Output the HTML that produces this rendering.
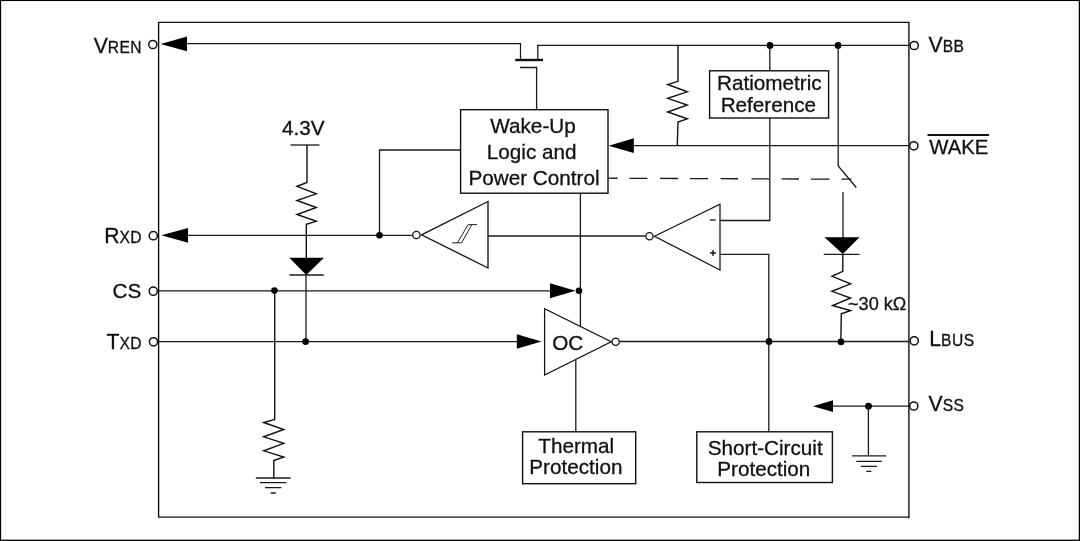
<!DOCTYPE html>
<html><head><meta charset="utf-8"><title>Block Diagram</title>
<style>
html,body{margin:0;padding:0;background:#fff;}
body{width:1080px;height:541px;overflow:hidden;}
svg{display:block;will-change:transform;}
text{font-family:"Liberation Sans",Arial,sans-serif;fill:#111;stroke:#111;stroke-width:0.3px;}
.l{stroke:#1a1a1a;stroke-width:1.3;fill:none;}
.tri{stroke:#111;stroke-width:1.25;fill:none;}
.r{stroke:#111;stroke-width:1.4;fill:none;stroke-linejoin:miter;}
.b{stroke:#111;stroke-width:1.4;fill:none;}
.k{fill:#000;stroke:none;}
.c{fill:#fff;stroke:#111;stroke-width:1.5;}
.t{font-size:20.7px;}
.s{font-size:15.6px;letter-spacing:0.45px;}
.p{font-size:21.2px;}
</style></head><body>
<svg width="1080" height="541" viewBox="0 0 1080 541">
<rect x="0" y="0" width="1080" height="541" fill="#fff"/>
<!-- outer border -->
<rect x="0.5" y="0.4" width="1078.9" height="539.9" fill="none" stroke="#000" stroke-width="1.3"/>
<!-- chip outline -->
<path class="b" d="M908.9 518.2V22.4H158.6V517.1H909.5" stroke-linejoin="miter"/>

<!-- VREN line + arrow -->
<path class="l" d="M186 43.7H520.5V60" style="stroke-width:1.2"/>
<polygon class="k" points="160.6,43.9 187,36.5 187,51.3"/>
<!-- MOSFET -->
<path d="M515.2 60H543" stroke="#111" stroke-width="2.4" fill="none"/>
<path class="l" d="M520 67.5H536.6V109.8"/>
<path class="l" d="M537.8 60V45.4H909"/>
<!-- pull-up resistor to WAKE -->
<path class="r" d="M678 45.4V81.3L667.7 84.5L687.3 91.8L667.7 98.3L687.3 105L667.7 112L687.3 118.8L678 122L677.3 145.7"/>
<!-- Ratiometric -->
<path class="l" d="M769.8 45.4V70.8M769.8 118V220.5H720"/>
<rect class="b" x="709.6" y="70.8" width="119" height="47.2" fill="#fff"/>
<text class="t" x="769.3" y="89.8" text-anchor="middle">Ratiometric</text>
<text class="t" x="768.4" y="111.9" text-anchor="middle">Reference</text>
<circle class="k" cx="770" cy="45.4" r="3.4"/>
<circle class="k" cx="838" cy="45.4" r="3.4"/>
<!-- switch branch -->
<path class="l" d="M838.2 45.4V166L856.3 187.5"/>
<path class="l" d="M843 192V238"/>
<polygon class="k" points="824.5,237.2 859.6,237.2 842.8,254"/>
<path class="l" d="M823.7 254.3H859.6"/>
<path class="r" d="M842.8 254V271.3L832 276.3L850.6 283.8L832 291.3L850.6 298L832.5 305.5L850.6 310.5L841.3 313.8L840.8 341.5"/>
<text x="848" y="310.3" style="font-size:18.1px">~30 kΩ</text>
<!-- WAKE line -->
<path class="l" d="M632 145.7H909"/>
<polygon class="k" points="608.6,145.7 633.8,138.3 633.8,153.1"/>
<!-- dashed -->
<path class="l" d="M608.0 178.20L617.5 178.24M629.5 178.29L647.5 178.36M660.0 178.41L678.0 178.49M690.0 178.54L708.0 178.61M720.5 178.66L738.0 178.73M751.5 178.79L769.0 178.86M781.5 178.91L799.0 178.99M811.0 179.04L829.5 179.11M841.5 179.16L851.5 179.20"/>
<!-- Wake-up box -->
<path class="l" d="M460.5 150H379.5V235.3"/>
<rect class="b" x="460.6" y="109.7" width="147.4" height="83.5" fill="#fff"/>
<text class="t" x="533" y="132.5" text-anchor="middle">Wake-Up</text>
<text class="t" x="531.7" y="158.8" text-anchor="middle">Logic and</text>
<text class="t" x="534" y="185" text-anchor="middle">Power Control</text>
<path class="l" d="M580.4 193V326"/>
<!-- RXD line -->
<path class="l" d="M187 235.3H412.5"/>
<polygon class="k" points="161.4,235.3 188,227.9 188,242.7"/>
<circle class="k" cx="379.5" cy="235.3" r="3.3"/>
<circle class="c" cx="416.4" cy="235" r="3.7" style="stroke-width:1.3"/>
<polygon class="tri" points="421.5,234.8 488,201.5 488,268" style="stroke-width:1.35"/>
<path d="M452 242.8H461.6M457.4 242.8L468.2 224.6M461.6 242.8L471.9 224.6M468.2 224.6H477" stroke="#222" stroke-width="1" fill="none"/>
<path class="l" d="M488 236H645.5"/>
<!-- comparator -->
<circle class="c" cx="649.5" cy="236.2" r="3.6" style="stroke-width:1.3"/>
<polygon class="tri" points="654.5,236.2 720,204.2 720,270"/>
<path d="M710 220H715.6" stroke="#111" stroke-width="1.3"/>
<path d="M710 253H716M713 250V256" stroke="#111" stroke-width="1.3"/>
<path class="l" d="M720 254.3H768.8V431.8"/>
<!-- 4.3V -->
<text class="t" x="303.4" y="134.9" text-anchor="middle">4.3V</text>
<path class="l" d="M290.5 145H319.5"/>
<path class="r" d="M307 145V182.5L297 186.3L316.3 193.8L297 200.5L316.3 207.5L297 214.5L316.3 221.3L306.3 224.3V258"/>
<polygon class="k" points="289.3,257.8 324,257.8 306.3,275"/>
<path class="l" d="M289.5 275H323.8"/>
<path class="l" d="M306 275V341.5"/>
<!-- CS line -->
<path class="l" d="M157.5 290.8H551"/>
<polygon class="k" points="575.5,290.8 550,283.3 550,298.3"/>
<circle class="k" cx="579" cy="290.8" r="3.3"/>
<circle class="k" cx="274.5" cy="290.6" r="3.3"/>
<path class="r" d="M274.7 290.8V419.5L263.7 422.5L283.8 429.5L263.7 436.8L283.8 443.3L263.7 450.8L283.8 457L273.8 460.5V478"/>
<path class="l" d="M255.8 478H290.5M260 482.6H286.3M265 487.6H281.3M270.8 493H275.8"/>
<!-- TXD line -->
<path class="l" d="M157.5 341.6H518"/>
<circle class="k" cx="305.6" cy="341.6" r="3.4"/>
<polygon class="k" points="541.5,341.5 516.8,334.2 516.8,348.8"/>
<polygon class="tri" points="544.6,308.8 544.6,375 611.2,341.8"/>
<text class="t" x="567.7" y="350.3" text-anchor="middle">OC</text>
<circle class="c" cx="615.7" cy="341.7" r="3.6" style="stroke-width:1.3"/>
<path class="l" d="M619.5 341.5H909"/>
<circle class="k" cx="769" cy="341.5" r="3.4"/>
<circle class="k" cx="841" cy="341.8" r="3.4"/>
<path class="l" d="M575.8 359.8V431.8"/>
<!-- Thermal -->
<rect class="b" x="522.6" y="431.8" width="113.1" height="51.9" fill="#fff"/>
<text class="t" x="576.2" y="453" text-anchor="middle">Thermal</text>
<text class="t" x="575.9" y="473.8" text-anchor="middle">Protection</text>
<!-- Short-circuit -->
<rect class="b" x="696.8" y="431.8" width="135.6" height="50.7" fill="#fff"/>
<text class="t" x="765.2" y="454.7" text-anchor="middle">Short-Circuit</text>
<text class="t" x="763.8" y="476.3" text-anchor="middle">Protection</text>
<!-- VSS -->
<path class="l" d="M832 406.2H909"/>
<polygon class="k" points="813,406.2 833,400.3 833,412.1"/>
<circle class="k" cx="868.5" cy="406.2" r="3.4"/>
<path class="l" d="M868.4 406.2V455.8"/>
<path class="l" d="M852 455.8H886.3M856.3 461.3H881.8M860.8 466.3H877M866.3 471.3H871.3"/>
<!-- pin circles -->
<circle class="c" cx="152.8" cy="44.5" r="4.1"/>
<circle class="c" cx="153.3" cy="235.7" r="4.1"/>
<circle class="c" cx="153.3" cy="291.2" r="4.1"/>
<circle class="c" cx="153.5" cy="341.8" r="4.1"/>
<circle class="c" cx="914.2" cy="45.5" r="4.1"/>
<circle class="c" cx="913.8" cy="145.8" r="4.1"/>
<circle class="c" cx="914.2" cy="340.8" r="4.1"/>
<circle class="c" cx="913.8" cy="406" r="4.1"/>
<!-- pin labels -->
<text class="t p" x="142.1" y="52.5" text-anchor="end">V<tspan class="s">REN</tspan></text>
<text class="t p" x="142" y="242.8" text-anchor="end">R<tspan class="s">XD</tspan></text>
<text class="t" x="141.3" y="298" text-anchor="end">CS</text>
<text class="t p" x="142" y="348.5" text-anchor="end">T<tspan class="s">XD</tspan></text>
<text class="t p" x="928.6" y="51.8">V<tspan class="s">BB</tspan></text>
<text class="t" x="929.3" y="154.3" style="font-size:20.3px">WAKE</text>
<path d="M927.5 135H989" stroke="#111" stroke-width="2.1"/>
<text class="t p" x="929.3" y="345.5">L<tspan class="s">BUS</tspan></text>
<text class="t p" x="928.6" y="411.3">V<tspan class="s">SS</tspan></text>
</svg>
</body></html>
